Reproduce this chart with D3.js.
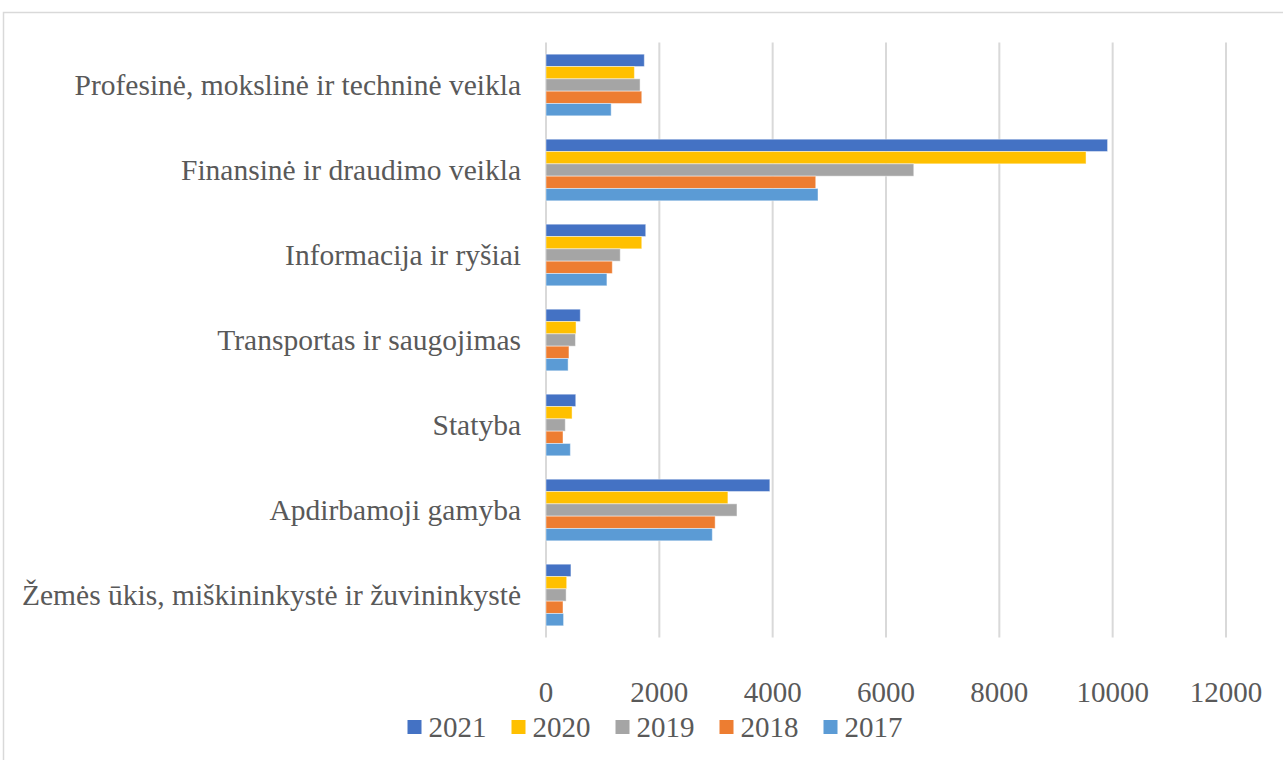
<!DOCTYPE html>
<html>
<head>
<meta charset="utf-8">
<script src="https://cdn.jsdelivr.net/npm/d3@7"></script>
<style>
  body { margin: 0; background: #fff; }
  svg { display: block; }
</style>
</head>
<body>
<div id="chart"></div>
<script>
// categories, top to bottom as in the picture
const categories = [
  'Profesinė, mokslinė ir techninė veikla',
  'Finansinė ir draudimo veikla',
  'Informacija ir ryšiai',
  'Transportas ir saugojimas',
  'Statyba',
  'Apdirbamoji gamyba',
  'Žemės ūkis, miškininkystė ir žuvininkystė'
]

const years = ['2021', '2020', '2019', '2018', '2017']

const values2021 = [1735, 9910, 1760, 605, 525, 3950, 440]
const values2020 = [1560, 9530, 1690, 530, 460, 3210, 365]
const values2019 = [1660, 6490, 1310, 520, 340, 3370, 355]
const values2018 = [1690, 4760, 1170, 405, 300, 2985, 300]
const values2017 = [1150, 4800, 1075, 390, 430, 2935, 310]

const xTicks = [0, 2000, 4000, 6000, 8000, 10000, 12000]

const colors = ['#4472C4', '#FFC000', '#A5A5A5', '#ED7D31', '#5B9BD5']

const seriesValues = [values2021, values2020, values2019, values2018, values2017]

const width = 1283
const height = 760
const plot = {'left': 546, 'right': 1226, 'top': 42.5, 'bottom': 637.5}
const fontFamily = '"Liberation Serif", "Times New Roman", serif'
const textColor = '#595959'
const gridColor = '#d9d9d9'

var svg = d3.select('#chart')
  .append('svg')
    .attr('width', width)
    .attr('height', height)

// outer chart border
svg.append('rect')
  .attr('x', 3.5)
  .attr('y', 12.5)
  .attr('width', width + 10)
  .attr('height', height + 10)
  .attr('fill', 'white')
  .attr('stroke', gridColor)
  .attr('stroke-width', 1.5)

var x = d3.scaleLinear()
  .domain([0, 12000])
  .range([plot.left, plot.right])

var y0 = d3.scaleBand()
  .domain(categories)
  .range([plot.top, plot.bottom])
  .paddingInner(0.275)
  .paddingOuter(0.1375)

var y1 = d3.scaleBand()
  .domain(years)
  .range([0, y0.bandwidth()])

// gridlines
svg.append('g')
  .selectAll('line')
  .data(xTicks)
  .enter()
  .append('line')
    .attr('x1', d => x(d))
    .attr('x2', d => x(d))
    .attr('y1', plot.top)
    .attr('y2', plot.bottom)
    .attr('stroke', gridColor)
    .attr('stroke-width', 2)

// bars, one group per category
var rows = categories.map((c, i) => ({
  'category': c,
  'bars': years.map((yr, j) => ({'year': yr, 'value': seriesValues[j][i], 'color': colors[j]}))
}))

var group = svg.append('g')
  .selectAll('g')
  .data(rows)
  .enter()
  .append('g')
    .attr('transform', d => `translate(0,${y0(d.category)})`)

group.selectAll('rect')
  .data(d => d.bars)
  .enter()
  .append('rect')
    .attr('x', x(0))
    .attr('y', d => y1(d.year))
    .attr('width', d => x(d.value) - x(0))
    .attr('height', y1.bandwidth())
    .attr('fill', d => d.color)
    .attr('stroke', 'white')
    .attr('stroke-opacity', 0.45)
    .attr('stroke-width', 1)

// category labels
svg.append('g')
  .selectAll('text')
  .data(categories)
  .enter()
  .append('text')
    .attr('x', 521)
    .attr('y', d => y0(d) + y0.bandwidth() / 2)
    .attr('dy', '0.35em')
    .attr('text-anchor', 'end')
    .attr('font-family', fontFamily)
    .attr('font-size', 29.5)
    .attr('fill', textColor)
    .text(d => d)

// x tick labels
svg.append('g')
  .selectAll('text')
  .data(xTicks)
  .enter()
  .append('text')
    .attr('x', d => x(d))
    .attr('y', 692)
    .attr('dy', '0.35em')
    .attr('text-anchor', 'middle')
    .attr('font-family', fontFamily)
    .attr('font-size', 29)
    .attr('fill', textColor)
    .text(d => d)

// legend
var legend = svg.append('g')
var lx = 0
years.forEach(function(yr, i) {
  var item = legend.append('g').attr('transform', `translate(${lx},0)`)
  item.append('rect')
    .attr('x', 0)
    .attr('y', -7)
    .attr('width', 14)
    .attr('height', 14)
    .attr('fill', colors[i])
  var t = item.append('text')
    .attr('x', 21)
    .attr('y', 0)
    .attr('dy', '0.35em')
    .attr('font-family', fontFamily)
    .attr('font-size', 29)
    .attr('fill', textColor)
    .text(yr)
  lx += 21 + t.node().getComputedTextLength() + 25
})
var legendWidth = lx - 25
legend.attr('transform', `translate(${655 - legendWidth / 2},727)`)
</script>
</body>
</html>
